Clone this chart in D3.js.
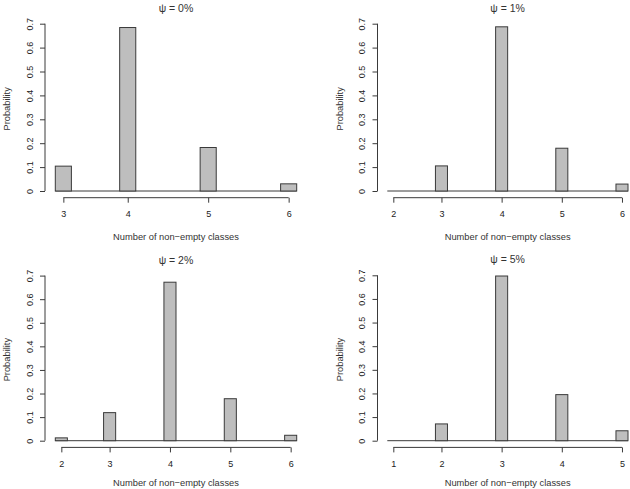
<!DOCTYPE html>
<html><head><meta charset="utf-8">
<script src="https://cdn.jsdelivr.net/npm/d3@7"></script>
<style>
body{margin:0;background:#fff}
text{font-family:"Liberation Sans",Arial,Helvetica,sans-serif;fill:#333}
</style>
</head><body><svg id="c" width="630" height="489"></svg>
<script>
// ---- data ----
const titles = ["ψ = 0%", "ψ = 1%", "ψ = 2%", "ψ = 5%"];
const classesA = [3, 4, 5, 6];
const probA = [0.104, 0.684, 0.182, 0.030];
const classesB = [2, 3, 4, 5, 6];
const probB = [0, 0.105, 0.687, 0.179, 0.029];
const classesC = [2, 3, 4, 5, 6];
const probC = [0.012, 0.119, 0.672, 0.178, 0.023];
const classesD = [1, 2, 3, 4, 5];
const probD = [0, 0.071, 0.697, 0.195, 0.042];
const yTicks = [0, 0.1, 0.2, 0.3, 0.4, 0.5, 0.6, 0.7];
const yTickLabels = ["0", "0.1", "0.2", "0.3", "0.4", "0.5", "0.6", "0.7"];
const binWidth = 0.2;
const xLabel = "Number of non\u2212empty classes";
const yLabel = "Probability";

// ---- layout ----
const layout = [
  {x0: 55.3, x1: 296.7, yb: 191, yt: 23.7, ax: 45},
  {x0: 387.3, x1: 628, yb: 191, yt: 23.7, ax: 377.5},
  {x0: 55.3, x1: 296.7, yb: 440.7, yt: 275.6, ax: 45},
  {x0: 387.3, x1: 628, yb: 440.7, yt: 275.3, ax: 377.5}
];
const series = [
  {classes: classesA, probs: probA},
  {classes: classesB, probs: probB},
  {classes: classesC, probs: probC},
  {classes: classesD, probs: probD}
];

const svg = d3.select("#c");
const axisCol = "#3a3a3a";

series.forEach((s, k) => {
  const L = layout[k];
  const lo = d3.min(s.classes), hi = d3.max(s.classes);
  const x = d3.scaleLinear().domain([lo, hi]).range([L.x0, L.x1]);
  const y = d3.scaleLinear().domain([0, 0.7]).range([L.yb, L.yt]);
  const g = svg.append("g");

  const bins = s.classes.map((v, i) => {
    const left = i === 0 ? v : v - binWidth;
    return {v, p: s.probs[i], left, right: left + binWidth, center: left + binWidth / 2};
  });

  // zero-height bins baseline
  g.append("line")
    .attr("x1", x(lo)).attr("x2", x(hi))
    .attr("y1", y(0)).attr("y2", y(0))
    .attr("stroke", axisCol).attr("stroke-width", 1);

  g.selectAll("rect.bar").data(bins.filter(b => b.p > 0)).join("rect")
    .attr("class", "bar")
    .attr("x", b => x(b.left))
    .attr("width", b => x(b.right) - x(b.left))
    .attr("y", b => y(b.p))
    .attr("height", b => y(0) - y(b.p))
    .attr("fill", "#bebebe")
    .attr("stroke", axisCol)
    .attr("stroke-width", 1);

  // x axis
  const axY = L.yb + 6.7;
  const xa = g.append("g").attr("transform", `translate(0,${axY})`)
    .call(d3.axisBottom(x).tickValues(bins.map(b => b.center))
      .tickFormat((d, i) => bins[i].v).tickSize(5).tickSizeOuter(0));
  xa.select(".domain").remove();
  xa.attr("font-family", null).attr("font-size", null);
  xa.selectAll(".tick line").attr("stroke", axisCol);
  xa.selectAll(".tick text").attr("y", 16.3).attr("dy", "0.35em")
    .style("font-size", "9px").style("fill", "#222");
  xa.append("line").attr("x1", x(bins[0].center)).attr("x2", x(bins[bins.length - 1].center))
    .attr("y1", 0).attr("y2", 0).attr("stroke", axisCol);

  // y axis
  const ya = g.append("g").attr("transform", `translate(${L.ax},0)`)
    .call(d3.axisLeft(y).tickValues(yTicks)
      .tickFormat((d, i) => yTickLabels[i]).tickSize(5).tickSizeOuter(0));
  ya.select(".domain").remove();
  ya.attr("font-family", null).attr("font-size", null);
  ya.selectAll(".tick line").attr("stroke", axisCol);
  ya.selectAll(".tick text")
    .attr("transform", "rotate(-90)")
    .attr("x", 0).attr("y", -12.3).attr("dy", null)
    .attr("text-anchor", "middle")
    .style("font-size", "9px").style("fill", "#222");
  ya.append("line").attr("x1", 0).attr("x2", 0)
    .attr("y1", y(0)).attr("y2", y(0.7)).attr("stroke", axisCol);

  // title
  g.append("text")
    .attr("x", (L.x0 + L.x1) / 2).attr("y", L.yt - 15.5).attr("dy", "0.35em")
    .attr("text-anchor", "middle").style("font-size", "10.5px")
    .text(titles[k]);

  // axis labels
  g.append("text")
    .attr("x", (L.x0 + L.x1) / 2).attr("y", Math.min(L.yb + 46, 482.5)).attr("dy", "0.35em")
    .attr("text-anchor", "middle").style("font-size", "9.3px")
    .text(xLabel);
  g.append("text")
    .attr("transform", `translate(${L.ax - 38},${(L.yb + L.yt) / 2 + 1.5}) rotate(-90)`)
    .attr("dy", "0.35em")
    .attr("text-anchor", "middle").style("font-size", "9.3px")
    .text(yLabel);
});
</script>
</body></html>
